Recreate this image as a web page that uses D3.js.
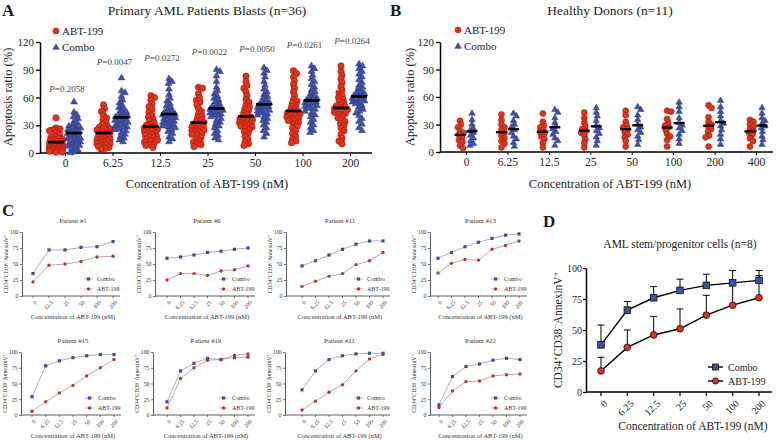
<!DOCTYPE html>
<html><head><meta charset="utf-8">
<script src="https://cdn.jsdelivr.net/npm/d3@7"></script>
<style>
body{margin:0;background:#fff}svg{display:block}
#c text{font-family:"Liberation Serif","DejaVu Serif",serif !important}
</style>
</head><body>
<svg id="c" width="777" height="441"></svg>
<script>
// ---------------- DATA ----------------
// Panel A: primary AML blasts (n=36)
const concA = ["0","6.25","12.5","25","50","100","200"];
const abtA = [
  [38,27,26,25,24,22,20,18,17,16,15,14,13,12,12,11,10,10,9,9,8,8,7,7,6,6,5,5,4,4,3,3,2,2,1,1],
  [52,48,45,41,38,36,33,31,29,28,27,26,25,24,23,22,21,20,19,18,17,16,15,15,14,13,12,11,10,10,9,8,7,6,5,4],
  [62,60,57,53,50,47,44,41,39,37,35,33,31,30,29,28,27,26,25,24,23,22,21,20,19,18,17,16,15,14,13,12,10,9,8,6],
  [71,70,64,60,57,55,52,48,45,42,40,38,36,34,33,32,31,30,29,28,27,26,25,24,23,22,21,20,19,17,15,13,12,10,9,7],
  [83,77,73,70,66,62,58,55,52,50,48,46,44,42,40,39,38,37,36,35,34,33,32,31,30,29,28,27,25,23,21,18,15,12,10,8],
  [89,86,82,78,74,70,66,62,58,56,54,52,50,48,46,45,44,43,42,41,40,39,38,37,36,35,33,31,29,27,24,21,18,15,13,11],
  [94,88,84,80,76,72,68,65,62,60,58,56,54,52,51,50,49,48,47,46,45,44,43,42,40,38,36,34,32,30,27,24,20,16,13,10]
];
const comboA = [
  [56,45,42,40,38,35,33,31,30,29,28,27,26,25,24,23,22,21,20,19,18,17,16,15,14,13,12,11,10,9,8,7,5,4,2,1],
  [82,68,66,62,58,55,52,50,48,46,45,43,42,41,40,39,38,37,36,35,34,33,32,31,30,29,28,27,26,25,23,21,19,17,15,13],
  [81,78,76,70,64,60,57,54,52,50,48,46,45,44,43,42,41,40,39,38,37,36,35,34,33,32,31,30,29,28,26,24,22,18,16,13],
  [91,89,84,78,72,68,65,62,60,58,56,54,52,51,50,49,48,47,46,45,44,43,42,41,40,38,36,34,32,30,28,25,22,20,17,15],
  [93,90,87,83,78,74,70,67,64,62,60,58,56,55,54,53,52,51,50,49,48,47,46,45,44,43,42,40,38,36,34,31,28,25,22,18],
  [95,92,89,85,81,78,75,72,69,67,65,63,61,60,59,58,57,56,55,54,53,52,51,50,49,48,46,44,42,40,37,34,31,28,25,23],
  [97,95,92,89,86,83,80,77,74,72,70,68,66,65,64,63,62,61,60,59,58,57,56,55,54,52,50,48,46,44,41,38,35,32,28,25]
];
const pValA = ["0.2058","0.0047","0.0272","0.0022","0.0050","0.0261","0.0264"];
const pLevelA = [66, 95, 99, 106, 109, 114, 118];

// Panel B: healthy donors (n=11)
const concB = ["0","6.25","12.5","25","50","100","200","400"];
const abtB = [
  [34,30,27,23,21,19,16,13,11,7,4],
  [41,35,30,27,24,21,18,15,12,9,5],
  [42,33,29,27,24,22,20,17,14,10,5],
  [43,37,32,28,25,23,21,18,14,10,5],
  [45,40,33,29,27,25,22,19,16,12,6],
  [45,44,36,32,29,27,24,20,17,13,6],
  [51,48,38,33,30,28,25,22,18,16,6],
  [35,33,30,28,25,23,21,19,15,12,6]
];
const comboB = [
  [43,36,31,27,24,22,19,16,13,10,8],
  [43,40,35,31,28,25,22,18,15,11,7],
  [47,44,38,33,29,26,23,20,16,13,8],
  [49,44,40,35,30,27,24,21,17,13,8],
  [50,47,41,36,31,28,25,22,18,14,9],
  [55,50,45,38,33,30,27,24,20,15,10],
  [57,50,45,40,35,32,29,25,20,15,9],
  [49,43,38,35,32,29,27,23,18,14,9]
];

// Panel C: individual patients
const patientsC = ["Patient #1","Patient #6","Patient #11","Patient #13","Patient #15","Patient #16","Patient #21","Patient #22"];
const concC1 = ["0","12.5","25","50","100","200"];
const concC = ["0","6.25","12.5","25","50","100","200"];
const comboC = [
  [35,72,72,76,77,85],
  [59,61,64,68,70,73,75],
  [47,55,64,73,81,86,86],
  [59,68,77,84,90,95,97],
  [29,78,86,91,94,96,96],
  [21,70,82,90,88,91,92],
  [40,70,88,94,97,98,98],
  [16,61,77,81,87,90,88]
];
const abtC = [
  [22,48,50,54,61,62],
  [25,35,35,32,39,41,47],
  [15,23,31,35,49,55,68],
  [36,51,57,56,73,79,86],
  [6,21,35,47,62,75,88],
  [11,58,75,87,88,95,97],
  [8,22,36,48,70,89,96],
  [12,38,53,54,62,64,65]
];

// Panel D: AML stem/progenitor cells (n=8), mean and SD
const concD = ["0","6.25","12.5","25","50","100","200"];
const comboD = [38,66,76,82,86,88,90];
const comboSD = [16,7,9,9,9,10,8];
const abtD = [17,36,46,51,62,70,76];
const abtSD = [11,14,15,16,16,17,18];

// ---------------- DRAWING ----------------
const serif = '"Liberation Serif","DejaVu Serif",serif';
const RED = "#e2321d", RED_S = "#9a1b10", BLUE = "#4252a3", BLUE_S = "#27337a";
const svg = d3.select("#c");

function text(g, x, y, s, size, o = {}) {
  const t = g.append("text").attr("x", x).attr("y", y).attr("font-family", serif)
    .attr("font-size", size).attr("fill", o.fill || "#1a1a1a")
    .attr("text-anchor", o.anchor || "start");
  if (o.weight) t.attr("font-weight", o.weight);
  if (o.rotate != null) t.attr("transform", `rotate(${o.rotate},${x},${y})`);
  if (s != null) t.text(s);
  return t;
}

function cdLabel(t, size) {
  const parts = [["CD34", 0], ["+", 1], ["CD38", 0], ["\u2212", 1], ["AnnexinV", 0], ["+", 1]];
  let up = false;
  parts.forEach(([s, sup]) => {
    const ts = t.append("tspan").text(s);
    if (sup && !up) { ts.attr("dy", -size * 0.38).attr("font-size", size * 0.68); up = true; }
    else if (sup) { ts.attr("font-size", size * 0.68); }
    else if (up) { ts.attr("dy", size * 0.38); up = false; }
  });
}

function swarm(ys, dia, maxW) {
  const idx = d3.range(ys.length).sort((a, b) => d3.ascending(ys[a], ys[b]) || a - b);
  const cands = [0];
  for (let s = 0.5; s <= maxW + 1e-9; s += 0.5) cands.push(s, -s);
  const placed = [], off = [];
  for (const i of idx) {
    let best = 0, bc = Infinity;
    for (const c of cands) {
      let cost = 0;
      for (const p of placed) {
        const d = Math.hypot(c - p.x, ys[i] - p.y);
        if (d < dia) cost += dia - d;
      }
      if (cost < bc - 1e-9) { bc = cost; best = c; if (cost === 0) break; }
    }
    off[i] = best; placed.push({ x: best, y: ys[i] });
  }
  return off;
}

function scatterPanel(c) {
  const g = svg.append("g");
  const x = d3.scalePoint().domain(c.conc).range(c.xr);
  const y = d3.scaleLinear().domain([0, 120]).range(c.yr);
  const ya = g.append("g").attr("transform", `translate(${c.ax0},0)`)
    .call(d3.axisLeft(y).tickValues([0, 30, 60, 90, 120]).tickSize(4).tickPadding(2).tickSizeOuter(0));
  ya.attr("font-family", serif).attr("font-size", 11);
  ya.select(".domain").attr("stroke-width", 1.5);
  ya.selectAll(".tick line").attr("stroke-width", 1.3);
  ya.selectAll("text").attr("fill", "#222");
  g.append("line").attr("x1", c.ax0).attr("x2", c.ax1).attr("y1", c.yr[0]).attr("y2", c.yr[0])
    .attr("stroke", "#000").attr("stroke-width", 1.5);
  const xa = g.append("g").attr("transform", `translate(0,${c.yr[0]})`)
    .call(d3.axisBottom(x).tickSize(3).tickPadding(3));
  xa.attr("font-family", serif).attr("font-size", 11.5);
  xa.select(".domain").remove();
  xa.selectAll("text").attr("fill", "#222");
  const tri = d3.symbol().type(d3.symbolTriangle).size(c.triSize);
  c.conc.forEach((k, i) => {
    const cx = x(k);
    const ysA = c.abt[i].map(y), oA = swarm(ysA, c.dia, c.maxW);
    const ysC = c.combo[i].map(y), oC = swarm(ysC, c.dia, c.maxW);
    g.append("g").selectAll("circle").data(c.abt[i]).join("circle")
      .attr("cx", (d, j) => cx - c.off + oA[j]).attr("cy", d => y(d)).attr("r", c.r)
      .attr("fill", RED).attr("stroke", RED_S).attr("stroke-width", 0.6);
    g.append("g").selectAll("path").data(c.combo[i]).join("path")
      .attr("d", tri).attr("transform", (d, j) => `translate(${cx + c.off + oC[j]},${y(d) + 0.8})`)
      .attr("fill", BLUE).attr("stroke", BLUE_S).attr("stroke-width", 0.5);
    [[c.abt[i], -c.off], [c.combo[i], c.off]].forEach(([vals, o]) => {
      const m = d3.mean(vals);
      g.append("line").attr("x1", cx + o - c.barW / 2).attr("x2", cx + o + c.barW / 2)
        .attr("y1", y(m)).attr("y2", y(m)).attr("stroke", "#000").attr("stroke-width", c.barH);
    });
  });
  // legend
  const L = c.legend;
  g.append("circle").attr("cx", L.x).attr("cy", L.y).attr("r", 3).attr("fill", RED).attr("stroke", RED_S).attr("stroke-width", 0.6);
  text(g, L.x + 6, L.y + 3.5, "ABT-199", 11);
  g.append("path").attr("d", d3.symbol().type(d3.symbolTriangle).size(18)).attr("transform", `translate(${L.x},${L.y + 16.5})`)
    .attr("fill", BLUE).attr("stroke", BLUE_S).attr("stroke-width", 0.5);
  text(g, L.x + 6, L.y + 20, "Combo", 11);
  // titles
  text(g, c.titleX, 15, c.title, 13.5, { anchor: "middle" });
  text(g, c.titleX, 188, "Concentration of ABT-199 (nM)", 12.5, { anchor: "middle" });
  text(g, c.ytX, 97, "Apoptosis ratio (%)", 12.5, { anchor: "middle", rotate: -90 });
  return { g, x, y };
}

// Panel A
const A = scatterPanel({
  conc: concA, abt: abtA, combo: comboA, xr: [65, 350], yr: [153, 42], ax0: 40, ax1: 372,
  off: 9, dia: 3.8, maxW: 6.5, r: 3.2, triSize: 20, barW: 16, barH: 2.6,
  legend: { x: 56, y: 31 }, title: "Primary AML Patients Blasts (n=36)", titleX: 207, ytX: 12
});
concA.forEach((k, i) => {
  const t = text(A.g, A.x(k) + 2, A.y(pLevelA[i]), null, 9, { anchor: "middle", fill: "#444" });
  t.append("tspan").attr("font-style", "italic").text("P");
  t.append("tspan").text("=" + pValA[i]);
});
text(svg, 2, 16, "A", 17, { weight: "bold" });

// Panel B
scatterPanel({
  conc: concB, abt: abtB, combo: comboB, xr: [466, 756], yr: [152, 42], ax0: 440, ax1: 773,
  off: 6, dia: 3.8, maxW: 4.5, r: 3.0, triSize: 18, barW: 11, barH: 2.3,
  legend: { x: 458, y: 30 }, title: "Healthy Donors (n=11)", titleX: 610, ytX: 414
});
text(svg, 390, 16, "B", 17, { weight: "bold" });

// Panel C
text(svg, 2, 216, "C", 17, { weight: "bold" });
const layoutC = [
  { x0: 22, x1: 120, p0: 33, p1: 113, yT: 232, yB: 296 },
  { x0: 155, x1: 255, p0: 167, p1: 248, yT: 232, yB: 296 },
  { x0: 286, x1: 390, p0: 302, p1: 383, yT: 232, yB: 296 },
  { x0: 430, x1: 527, p0: 438, p1: 519, yT: 232, yB: 296 },
  { x0: 21, x1: 121, p0: 32, p1: 114, yT: 352, yB: 415 },
  { x0: 153, x1: 255, p0: 167, p1: 248, yT: 352, yB: 415 },
  { x0: 285, x1: 390, p0: 302, p1: 383, yT: 352, yB: 415 },
  { x0: 430, x1: 527, p0: 439, p1: 520, yT: 352, yB: 415 }
];
const CB = "#3c4c9f", CR = "#c23326";
patientsC.forEach((name, i) => {
  const L = layoutC[i];
  const conc = comboC[i].length === 6 ? concC1 : concC;
  const g = svg.append("g");
  const x = d3.scalePoint().domain(conc).range([L.p0, L.p1]);
  const y = d3.scaleLinear().domain([0, 100]).range([L.yB, L.yT]);
  const ya = g.append("g").attr("transform", `translate(${L.x0},0)`)
    .call(d3.axisLeft(y).tickValues([0, 25, 50, 75, 100]).tickSize(2).tickPadding(1.5).tickSizeOuter(0));
  ya.attr("font-family", serif).attr("font-size", 5.8);
  ya.select(".domain").attr("stroke", "#333").attr("stroke-width", 0.8);
  ya.selectAll(".tick line").attr("stroke", "#333").attr("stroke-width", 0.7);
  ya.selectAll("text").attr("fill", "#333");
  g.append("line").attr("x1", L.x0).attr("x2", L.x1).attr("y1", L.yB).attr("y2", L.yB).attr("stroke", "#333").attr("stroke-width", 0.8);
  g.append("g").selectAll("line").data(conc).join("line")
    .attr("x1", d => x(d)).attr("x2", d => x(d)).attr("y1", L.yB).attr("y2", L.yB + 2).attr("stroke", "#333").attr("stroke-width", 0.7);
  conc.forEach(k => {
    text(g, x(k) + 1.5, L.yB + 4, k, 5.8, { anchor: "end", rotate: -45, fill: "#333" })
      .attr("dominant-baseline", "hanging");
  });
  text(g, (L.x0 + L.x1) / 2 + 2, L.yB + 23, "Concentration of ABT-199 (nM)", 6.5, { anchor: "middle", fill: "#333" });
  text(g, (L.x0 + L.x1) / 2 + 2, L.yT - 9, name, 6.8, { anchor: "middle", fill: "#333" });
  cdLabel(text(g, L.x0 - 14, (L.yT + L.yB) / 2, null, 5.8, { anchor: "middle", rotate: -90, fill: "#333" }), 5.8);
  const line = d3.line().x((d, j) => x(conc[j])).y(d => y(d));
  [[comboC[i], CB, "sq"], [abtC[i], CR, "ci"]].forEach(([vals, col, shape]) => {
    g.append("path").attr("d", line(vals)).attr("fill", "none").attr("stroke", "#8a8a8a").attr("stroke-width", 0.7);
    vals.forEach((v, j) => {
      if (shape === "sq") g.append("rect").attr("x", x(conc[j]) - 1.6).attr("y", y(v) - 1.6).attr("width", 3.2).attr("height", 3.2).attr("fill", col);
      else g.append("circle").attr("cx", x(conc[j])).attr("cy", y(v)).attr("r", 1.7).attr("fill", col);
    });
  });
  // legend
  const lx = L.x1 - 36;
  [["Combo", CB, "sq", L.yB - 17], ["ABT-199", CR, "ci", L.yB - 7]].forEach(([lab, col, shape, ly]) => {
    g.append("line").attr("x1", lx).attr("x2", lx + 9).attr("y1", ly).attr("y2", ly).attr("stroke", "#8a8a8a").attr("stroke-width", 0.7);
    if (shape === "sq") g.append("rect").attr("x", lx + 4.5 - 1.6).attr("y", ly - 1.6).attr("width", 3.2).attr("height", 3.2).attr("fill", col);
    else g.append("circle").attr("cx", lx + 4.5).attr("cy", ly).attr("r", 1.7).attr("fill", col);
    text(g, lx + 13, ly + 2, lab, 6, { fill: "#333" });
  });
});

// Panel D
(function () {
  const g = svg.append("g");
  const L = { x0: 586, x1: 772, p0: 601, p1: 759, yT: 268, yB: 392 };
  const x = d3.scalePoint().domain(concD).range([L.p0, L.p1]);
  const y = d3.scaleLinear().domain([0, 100]).range([L.yB, L.yT]);
  const ya = g.append("g").attr("transform", `translate(${L.x0},0)`)
    .call(d3.axisLeft(y).tickValues([0, 25, 50, 75, 100]).tickSize(3).tickPadding(1).tickSizeOuter(0));
  ya.attr("font-family", serif).attr("font-size", 10);
  ya.select(".domain").attr("stroke-width", 1.5);
  ya.selectAll(".tick line").attr("stroke-width", 1.2);
  ya.selectAll("text").attr("fill", "#222");
  g.append("line").attr("x1", L.x0).attr("x2", L.x1).attr("y1", L.yB).attr("y2", L.yB).attr("stroke", "#000").attr("stroke-width", 1.5);
  g.append("g").selectAll("line").data(concD).join("line")
    .attr("x1", d => x(d)).attr("x2", d => x(d)).attr("y1", L.yB).attr("y2", L.yB + 4).attr("stroke", "#000").attr("stroke-width", 1.2);
  concD.forEach(k => {
    text(g, x(k) + 2, L.yB + 7, k, 10, { anchor: "end", rotate: -45, fill: "#222" }).attr("dominant-baseline", "hanging");
  });
  text(g, 693, 430, "Concentration of ABT-199 (nM)", 11.5, { anchor: "middle" });
  text(g, 680, 248, "AML stem/progenitor cells (n=8)", 11.5, { anchor: "middle" });
  cdLabel(text(g, 562, 330, null, 11.5, { anchor: "middle", rotate: -90 }), 11.5);
  // error bars
  [[comboD, comboSD], [abtD, abtSD]].forEach(([m, sd]) => {
    m.forEach((v, j) => {
      const cx = x(concD[j]);
      g.append("line").attr("x1", cx).attr("x2", cx).attr("y1", y(v)).attr("y2", y(v + sd[j])).attr("stroke", "#000").attr("stroke-width", 1);
      g.append("line").attr("x1", cx - 3.5).attr("x2", cx + 3.5).attr("y1", y(v + sd[j])).attr("y2", y(v + sd[j])).attr("stroke", "#000").attr("stroke-width", 1);
    });
  });
  const line = d3.line().x((d, j) => x(concD[j])).y(d => y(d));
  [[comboD, "sq"], [abtD, "ci"]].forEach(([vals, shape]) => {
    g.append("path").attr("d", line(vals)).attr("fill", "none").attr("stroke", "#000").attr("stroke-width", 1.4);
    vals.forEach((v, j) => {
      if (shape === "sq") g.append("rect").attr("x", x(concD[j]) - 3.3).attr("y", y(v) - 3.3).attr("width", 6.6).attr("height", 6.6)
        .attr("fill", BLUE).attr("stroke", "#111").attr("stroke-width", 0.8);
      else g.append("circle").attr("cx", x(concD[j])).attr("cy", y(v)).attr("r", 3.4).attr("fill", RED).attr("stroke", "#111").attr("stroke-width", 0.8);
    });
  });
  [["Combo", "sq", 367], ["ABT-199", "ci", 381]].forEach(([lab, shape, ly]) => {
    g.append("line").attr("x1", 708).attr("x2", 723).attr("y1", ly).attr("y2", ly).attr("stroke", "#000").attr("stroke-width", 1.4);
    if (shape === "sq") g.append("rect").attr("x", 715.5 - 3).attr("y", ly - 3).attr("width", 6).attr("height", 6).attr("fill", BLUE).attr("stroke", "#111").attr("stroke-width", 0.8);
    else g.append("circle").attr("cx", 715.5).attr("cy", ly).attr("r", 3.1).attr("fill", RED).attr("stroke", "#111").attr("stroke-width", 0.8);
    text(g, 728, ly + 3.5, lab, 10);
  });
  text(svg, 543, 227, "D", 17, { weight: "bold" });
})();
</script>
</body></html>
